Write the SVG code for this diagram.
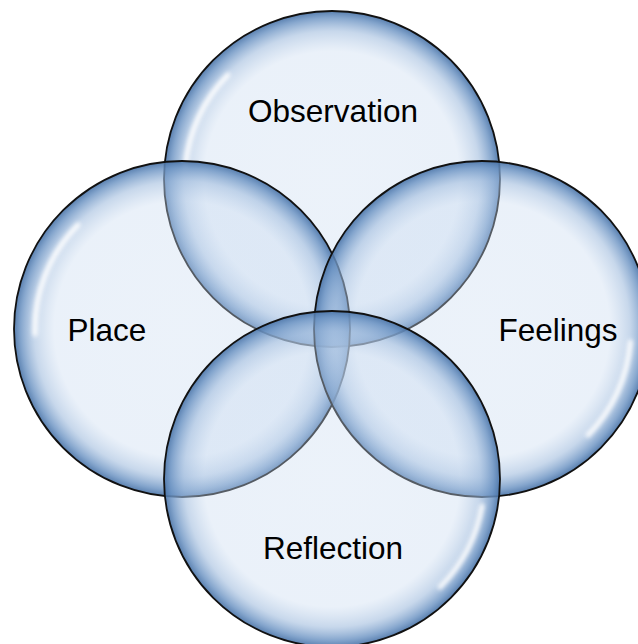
<svg xmlns="http://www.w3.org/2000/svg" width="638" height="644" viewBox="0 0 638 644">
  <defs>
    <radialGradient id="bubble" cx="0.5" cy="0.5" r="0.5">
      <stop offset="0" stop-color="#c8daf0" stop-opacity="0.35"/>
      <stop offset="0.76" stop-color="#c8daf0" stop-opacity="0.38"/>
      <stop offset="0.88" stop-color="#9fbbdd" stop-opacity="0.58"/>
      <stop offset="0.96" stop-color="#6a92c2" stop-opacity="0.82"/>
      <stop offset="1" stop-color="#4a74a8" stop-opacity="0.92"/>
    </radialGradient>
    <filter id="soft" x="-20%" y="-20%" width="140%" height="140%">
      <feGaussianBlur stdDeviation="2"/>
    </filter>
  </defs>
  <style>
    .bub { fill: url(#bubble); stroke: #111; stroke-width: 1.8; }
    .hl { fill: none; stroke: #ffffff; stroke-width: 5; stroke-linecap: round; opacity: 0.95; filter: url(#soft); }
    .lbl { font-family: "Liberation Sans", Arial, sans-serif; font-size: 31.5px; fill: #000; text-anchor: middle; }
  </style>
  <g id="connectors"></g>
  <g id="node-observation">
    <circle class="bub" cx="332" cy="179" r="168"/>
    <path class="hl" d="M185.6,165.9 A147,147 0 0 1 228,75"/>
    <text class="lbl" x="333" y="122">Observation</text>
  </g>
  <g id="node-place">
    <circle class="bub" cx="182" cy="329" r="168"/>
    <path class="hl" d="M35.1,334.2 A147,147 0 0 1 78,225"/>
    <text class="lbl" x="107" y="341">Place</text>
  </g>
  <g id="node-feelings">
    <circle class="bub" cx="482" cy="329" r="168"/>
    <path class="hl" d="M630.4,342.1 A150,150 0 0 1 588.1,435.1"/>
    <text class="lbl" x="558" y="341">Feelings</text>
  </g>
  <g id="node-reflection">
    <circle class="bub" cx="332" cy="479" r="168"/>
    <path class="hl" d="M482,506 A153,153 0 0 1 440,587"/>
    <text class="lbl" x="333" y="559">Reflection</text>
  </g>
</svg>
